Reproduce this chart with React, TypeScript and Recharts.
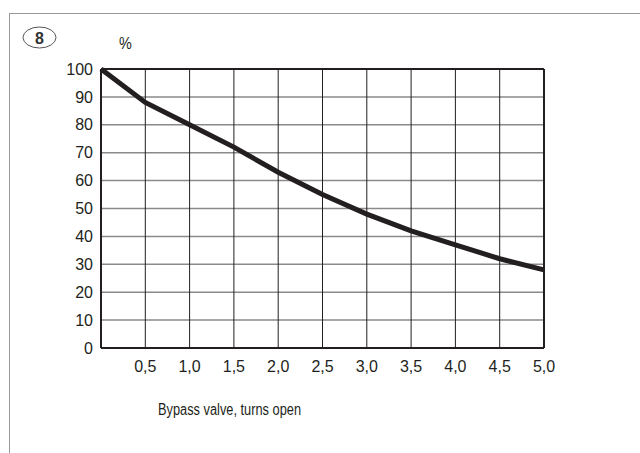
import {
  LineChart, Line, XAxis, YAxis, CartesianGrid, ReferenceLine,
} from 'recharts'

const turns = [0, 0.5, 1.0, 1.5, 2.0, 2.5, 3.0, 3.5, 4.0, 4.5, 5.0]
const percent = [100, 88, 80, 72, 63, 55, 48, 42, 37, 32, 28]
const xTicks = [0.5, 1.0, 1.5, 2.0, 2.5, 3.0, 3.5, 4.0, 4.5, 5.0]
const yTicks = [0, 10, 20, 30, 40, 50, 60, 70, 80, 90, 100]

const data = turns.map((t, i) => ({ turns: t, pct: percent[i] }))

const font = '"Liberation Sans", Arial, sans-serif'
const tickStyle = { fontSize: 16, fill: '#231f20', fontFamily: font }

function fmtX(v: number) { return v.toFixed(1).replace('.', ',') }

export default function App() {
  return (
    <div style={{ position: 'absolute', left: 0, top: 0, width: 640, height: 453, background: '#fff', fontFamily: font, overflow: 'hidden' }}>
      {/* frame */}
      <div style={{ position: 'absolute', left: 9, top: 13, width: 640, height: 453, borderTop: '1px solid #999', borderLeft: '1px solid #999' }} />
      {/* badge */}
      <svg style={{ position: 'absolute', left: 0, top: 0 }} width={80} height={60}>
        <ellipse cx={39.5} cy={37.5} rx={16.5} ry={10.5} fill="none" stroke="#555" strokeWidth={1} />
        <text x={39.5} y={43.5} textAnchor="middle" fontSize={16} fontWeight="bold" fill="#333" fontFamily={font}>8</text>
      </svg>
      <div style={{ position: 'absolute', left: 119, top: 35, fontSize: 16, color: '#231f20', transform: 'scaleX(0.9)', transformOrigin: 'left' }}>%</div>
      <div style={{ position: 'absolute', left: 158, top: 401, fontSize: 16, color: '#231f20', whiteSpace: 'nowrap', transform: 'scaleX(0.8)', transformOrigin: 'left' }}>Bypass valve, turns open</div>
      <div style={{ position: 'absolute', left: 0, top: 0 }}>
        <LineChart width={640} height={453} data={data} margin={{ top: 69, right: 96, left: 41, bottom: 75 }}>
          <CartesianGrid vertical={false} stroke="#8a8a8a" strokeWidth={1.5} />
          <CartesianGrid horizontal={false} stroke="#231f20" strokeWidth={1} />
          <XAxis
            dataKey="turns" type="number" domain={[0, 5]} ticks={xTicks}
            tickFormatter={fmtX} tick={tickStyle} tickLine={false}
            axisLine={{ stroke: '#231f20', strokeWidth: 2 }} tickMargin={7} height={30}
            interval={0}
          />
          <YAxis
            type="number" domain={[0, 100]} ticks={yTicks} tick={tickStyle}
            tickLine={false} axisLine={{ stroke: '#231f20', strokeWidth: 2 }}
            tickMargin={2} width={60} interval={0}
          />
          <ReferenceLine y={100} stroke="#231f20" strokeWidth={2} />
          <ReferenceLine x={5} stroke="#231f20" strokeWidth={2} />
          <Line
            dataKey="pct" type="linear" stroke="#231f20" strokeWidth={5}
            dot={false} isAnimationActive={false}
          />
        </LineChart>
      </div>
    </div>
  )
}
